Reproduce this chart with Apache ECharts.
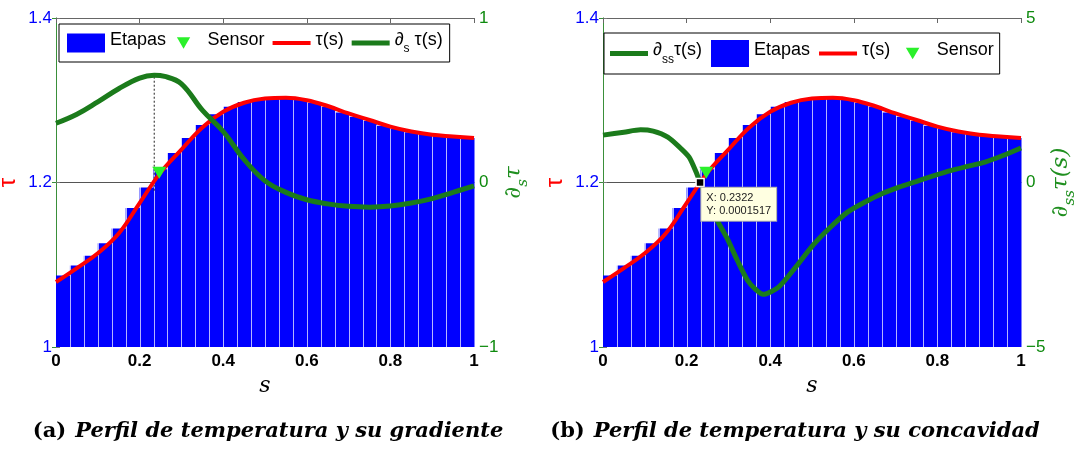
<!DOCTYPE html>
<html>
<head>
<meta charset="utf-8">
<script src="https://cdn.jsdelivr.net/npm/echarts@6/dist/echarts.min.js"></script>
<style>
  html, body { margin: 0; padding: 0; background: #ffffff; }
  #chart { width: 1077px; height: 450px; }
</style>
</head>
<body>
<div id="chart"></div>
<script>
// Temperature profile tau(s) sampled along s
const tauS = [0, 0.05, 0.1, 0.15, 0.2, 0.25, 0.3, 0.35, 0.4, 0.45, 0.5, 0.55, 0.6, 0.65, 0.7, 0.75, 0.8, 0.85, 0.9, 0.95, 1];
const tauValues = [1.079, 1.096, 1.114, 1.138, 1.175, 1.212, 1.240, 1.267, 1.286, 1.297, 1.302, 1.303, 1.300, 1.293, 1.284, 1.276, 1.268, 1.262, 1.258, 1.256, 1.254];

// Gradient d_s tau(s)
const gradS = [0, 0.05, 0.1, 0.15, 0.2, 0.235, 0.26, 0.3, 0.35, 0.4, 0.45, 0.5, 0.55, 0.6, 0.65, 0.7, 0.75, 0.8, 0.85, 0.9, 0.95, 1];
const gradValues = [0.36, 0.415, 0.49, 0.57, 0.635, 0.652, 0.645, 0.60, 0.44, 0.31, 0.14, 0.01, -0.06, -0.105, -0.13, -0.145, -0.15, -0.143, -0.125, -0.098, -0.06, -0.02];

// Concavity d_ss tau(s)
const concS = [0, 0.05, 0.09, 0.12, 0.155, 0.185, 0.206, 0.223, 0.2322, 0.264, 0.297, 0.3215, 0.346, 0.365, 0.383, 0.42, 0.461, 0.502, 0.544, 0.585, 0.626, 0.667, 0.708, 0.749, 0.79, 0.831, 0.872, 0.914, 0.957, 1];
const concValues = [1.44, 1.53, 1.60, 1.56, 1.38, 1.05, 0.77, 0.31, 0.0001517, -0.94, -1.70, -2.37, -2.98, -3.25, -3.40, -3.18, -2.57, -1.91, -1.36, -0.90, -0.60, -0.34, -0.14, 0.03, 0.20, 0.36, 0.49, 0.62, 0.82, 1.05];

// Piecewise-constant stages (30 equal intervals on [0, 1])
const stageHeights = [1.087, 1.099, 1.111, 1.126, 1.144, 1.169, 1.194, 1.216, 1.236, 1.254,
                      1.270, 1.283, 1.292, 1.298, 1.301, 1.303, 1.303, 1.301, 1.297, 1.292,
                      1.285, 1.280, 1.275, 1.269, 1.265, 1.261, 1.259, 1.257, 1.256, 1.254];

// Sensor location [s, tau]
const sensorPoint = [0.247, 1.212];
// Vertical guide under the gradient maximum: s and tau range
const gradPeakS = 0.235;
const gradPeakTauRange = [1.19, 1.331];
// Data cursor on the concavity curve [s, d_ss tau]
const dataTip = [0.2322, 0.0001517];

const sTicks = { min: 0, max: 1, step: 0.2 };
const tauTicks = { min: 1, max: 1.4, step: 0.2 };
const gradTicks = { min: -1, max: 1, step: 1 };
const concTicks = { min: -5, max: 5, step: 5 };

const captionTags = ['(a)', '(b)'];
const captionTitles = ['Perfil de temperatura y su gradiente', 'Perfil de temperatura y su concavidad'];

const zip = (xs, ys) => xs.map((x, i) => [x, ys[i]]);
const stageData = stageHeights.map((h, i, a) => [i / a.length, (i + 1) / a.length, h]);

const BLUE = '#0000ff', RED = '#ff0000', GREEN = '#1b7b1b', LIME = '#2bf02b', AXIS_GREEN = '#3a8f3a';
const SANS = 'Liberation Sans, Arial, Helvetica, sans-serif';
const SERIF = 'DejaVu Serif, serif';

const triSymbol = 'path://M0,0L14,0L7,12Z';
const triIconA = 'path://M0,0M20,20M3,4L17,4L10,16Z';
const triIconB = 'path://M0,0M28,28M7,8L21,8L14,20Z';
const redLineIcon = 'path://M0,0L38,0L38,4L0,4Z';
const greenLineIcon = 'path://M0,0L37,0L37,5L0,5Z';

const minus = v => String(v).replace('-', '\u2212');

function renderStage(params, api) {
  const x0 = api.value(0), x1 = api.value(1), h = api.value(2);
  const tl = api.coord([x0, h]);
  const br = api.coord([x1, tauTicks.min]);
  const children = [{
    type: 'rect',
    shape: { x: tl[0], y: tl[1], width: br[0] - tl[0] + 0.5, height: br[1] - tl[1] },
    style: { fill: api.visual('color') }
  }];
  if (params.dataIndex > 0) {
    const lx = Math.round(tl[0]) + 0.5;
    children.push({
      type: 'line',
      shape: { x1: lx, y1: tl[1] - 1, x2: lx, y2: br[1] },
      style: { stroke: 'rgba(255,255,255,0.7)', lineWidth: 1 }
    });
  }
  return { type: 'group', children };
}

const legendRich = {
  n: { fontSize: 18, fontFamily: SANS, color: '#000', lineHeight: 24, verticalAlign: 'top' },
  sub: { fontSize: 12, fontFamily: SANS, color: '#000', lineHeight: 12, verticalAlign: 'bottom' }
};
function legendLabel(name) {
  if (name === '\u2202s \u03c4(s)') return '{n|\u2202}{sub|s}{n| \u03c4(s)}';
  if (name === '\u2202ss \u03c4(s)') return '{n|\u2202}{sub|ss}{n|\u03c4(s)}';
  return '{n|' + name + '}';
}

function xAxes(gridIndex) {
  return [{
    gridIndex, type: 'value', min: sTicks.min, max: sTicks.max, interval: sTicks.step, position: 'bottom',
    axisLine: { show: true, lineStyle: { color: '#555', width: 1 } },
    axisTick: { show: false },
    splitLine: { show: false },
    axisLabel: { color: '#000', fontSize: 17, fontWeight: 'bold', fontFamily: SANS, margin: 6 },
    name: 's', nameLocation: 'middle', nameGap: 18,
    nameTextStyle: { color: '#000', fontSize: 22, fontStyle: 'italic', fontFamily: SERIF }
  }, {
    gridIndex, type: 'value', min: sTicks.min, max: sTicks.max, interval: sTicks.step, position: 'top',
    axisLine: { show: true, lineStyle: { color: '#666', width: 1 } },
    axisTick: { show: true, inside: true, length: 5, lineStyle: { color: '#666' } },
    axisLabel: { show: false },
    splitLine: { show: false }
  }];
}

function tauAxis(gridIndex) {
  return {
    gridIndex, type: 'value', min: tauTicks.min, max: tauTicks.max, interval: tauTicks.step, position: 'left',
    axisLine: { show: true, lineStyle: { color: '#8fb08f', width: 1 } },
    axisTick: { show: true, inside: true, length: 4, lineStyle: { color: '#777' } },
    splitLine: { show: false },
    axisLabel: { color: BLUE, fontSize: 17, fontFamily: SANS, margin: 4 },
    name: '\u03c4', nameLocation: 'middle', nameRotate: 90, nameGap: 36,
    nameTextStyle: { color: RED, fontSize: 24, fontFamily: SANS }
  };
}

function rightAxis(gridIndex, ticks, name, gap) {
  return {
    gridIndex, type: 'value', min: ticks.min, max: ticks.max, interval: ticks.step, position: 'right',
    axisLine: { show: true, lineStyle: { color: AXIS_GREEN, width: 1 } },
    axisTick: { show: true, inside: true, length: 4, lineStyle: { color: AXIS_GREEN } },
    splitLine: { show: false },
    axisLabel: { color: '#0e8a0e', fontSize: 17, fontFamily: SANS, margin: 5, formatter: minus },
    name, nameLocation: 'middle', nameRotate: 90, nameGap: gap,
    nameTextStyle: {
      color: '#1f8f1f',
      rich: {
        d: { fontSize: 23, fontFamily: SERIF, fontStyle: 'italic', color: '#1f8f1f', lineHeight: 28, verticalAlign: 'top' },
        sub: { fontSize: 15, fontFamily: SERIF, fontStyle: 'italic', color: '#1f8f1f', lineHeight: 14, verticalAlign: 'bottom' }
      }
    }
  };
}

function stageSeries(xi, yi) {
  return {
    name: 'Etapas', type: 'custom', xAxisIndex: xi, yAxisIndex: yi,
    renderItem: renderStage, data: stageData, encode: { x: [0, 1], y: 2 },
    itemStyle: { color: BLUE }, z: 1, silent: true
  };
}
function tauSeries(xi, yi) {
  return {
    name: '\u03c4(s)', type: 'line', xAxisIndex: xi, yAxisIndex: yi,
    data: zip(tauS, tauValues), smooth: 0.4, symbol: 'none',
    lineStyle: { color: RED, width: 4 }, itemStyle: { color: RED }, z: 3, silent: true
  };
}
function sensorSeries(xi, yi, z) {
  return {
    name: 'Sensor', type: 'scatter', xAxisIndex: xi, yAxisIndex: yi,
    data: [sensorPoint], symbol: triSymbol, symbolSize: [14, 12],
    itemStyle: { color: LIME, opacity: 1 }, z, silent: true
  };
}

const option = {
  backgroundColor: '#ffffff',
  animation: false,
  grid: [
    { left: 56, top: 18, width: 418, height: 329, outerBoundsMode: 'none', containLabel: false },
    { left: 603, top: 18, width: 418, height: 329, outerBoundsMode: 'none', containLabel: false }
  ],
  xAxis: [...xAxes(0), ...xAxes(1)],
  yAxis: [
    tauAxis(0),
    rightAxis(0, gradTicks, '{d|\u2202}{sub|s}{d|\u03c4}', 20),
    tauAxis(1),
    rightAxis(1, concTicks, '{d|\u2202}{sub|ss}{d|\u03c4(}{d|s}{d|)}', 20)
  ],
  legend: [{
    left: 59, top: 24, orient: 'horizontal', selectedMode: false,
    data: [
      { name: 'Etapas', icon: 'rect' },
      { name: 'Sensor', icon: triIconA },
      { name: '\u03c4(s)', icon: redLineIcon },
      { name: '\u2202s \u03c4(s)', icon: greenLineIcon }
    ],
    itemWidth: 38, itemHeight: 19, itemGap: 8,
    padding: [7, 7, 7, 8],
    backgroundColor: '#ffffff', borderColor: '#000000', borderWidth: 1, borderRadius: 0,
    textStyle: { rich: legendRich },
    formatter: legendLabel
  }, {
    left: 604, top: 33, orient: 'horizontal', selectedMode: false,
    data: [
      { name: '\u2202ss \u03c4(s)', icon: greenLineIcon },
      { name: 'Etapas', icon: 'rect' },
      { name: '\u03c4(s)', icon: redLineIcon },
      { name: 'Sensor', icon: triIconB }
    ],
    itemWidth: 38, itemHeight: 27, itemGap: 9,
    padding: [7, 6, 7, 6],
    backgroundColor: '#ffffff', borderColor: '#000000', borderWidth: 1, borderRadius: 0,
    textStyle: { rich: legendRich },
    formatter: legendLabel
  }],
  series: [
    // (a) profile and gradient
    stageSeries(0, 0),
    tauSeries(0, 0),
    {
      type: 'line', xAxisIndex: 0, yAxisIndex: 0,
      data: gradPeakTauRange.map(t => [gradPeakS, t]), symbol: 'none',
      lineStyle: { color: '#222', width: 1, type: [2, 2] }, z: 2, silent: true
    },
    sensorSeries(0, 0, 3),
    {
      name: '\u2202s \u03c4(s)', type: 'line', xAxisIndex: 0, yAxisIndex: 1,
      data: zip(gradS, gradValues), smooth: 0.4, symbol: 'none',
      lineStyle: { color: GREEN, width: 5 }, itemStyle: { color: GREEN }, z: 4, silent: true
    },
    // (b) profile and concavity
    stageSeries(2, 2),
    tauSeries(2, 2),
    {
      name: '\u2202ss \u03c4(s)', type: 'line', xAxisIndex: 2, yAxisIndex: 3,
      data: zip(concS, concValues), smooth: 0.25, symbol: 'none',
      lineStyle: { color: GREEN, width: 5 }, itemStyle: { color: GREEN }, z: 4, silent: true
    },
    sensorSeries(2, 2, 5),
    {
      type: 'scatter', xAxisIndex: 2, yAxisIndex: 3,
      data: [dataTip], symbol: 'rect', symbolSize: 8,
      itemStyle: { color: '#000', borderColor: '#fff', borderWidth: 1.5, opacity: 1 },
      label: {
        show: true, position: [6, 10],
        formatter: p => 'X: ' + p.value[0] + '\nY: ' + p.value[1],
        fontSize: 11, fontFamily: SANS, color: '#222', lineHeight: 13, align: 'left', verticalAlign: 'top',
        backgroundColor: '#ffffe1', borderColor: '#aaa', borderWidth: 1, padding: [4, 5, 3, 5]
      },
      z: 10, silent: true
    }
  ],
  graphic: captionTags.map((tag, i) => ({
    type: 'text',
    x: [268, 795][i], y: 432,
    style: {
      text: '{t|' + tag + '}{i|' + captionTitles[i] + '}',
      align: 'center', verticalAlign: 'middle',
      rich: {
        t: { fontFamily: SERIF, fontWeight: 'bold', fontSize: 21, fill: '#000', padding: [0, 9, 0, 0] },
        i: { fontFamily: SERIF, fontWeight: 'bold', fontStyle: 'italic', fontSize: 21, fill: '#000' }
      }
    }
  }))
};

const chart = echarts.init(document.getElementById('chart'), null, { renderer: 'canvas' });
chart.setOption(option);
</script>
</body>
</html>
